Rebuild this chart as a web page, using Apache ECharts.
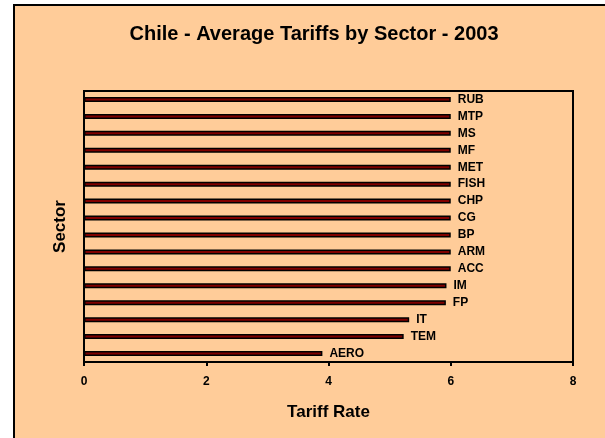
<!DOCTYPE html>
<html>
<head>
<meta charset="utf-8">
<script src="https://cdn.jsdelivr.net/npm/echarts@6/dist/echarts.min.js"></script>
<style>
  html, body { margin: 0; padding: 0; background: #ffffff; width: 605px; height: 438px; overflow: hidden; }
  #frame { position: absolute; left: 13px; top: 4px; width: 590px; height: 500px; background: #FFCC99; border: 2px solid #000; }
  #chart { position: absolute; left: 0; top: 0; width: 605px; height: 438px; }
</style>
</head>
<body>
<div id="frame"></div>
<div id="chart"></div>
<script>
// Categories listed bottom to top
const sectors = ['AERO', 'TEM', 'IT', 'FP', 'IM', 'ACC', 'ARM', 'BP', 'CG', 'CHP', 'FISH', 'MET', 'MF', 'MS', 'MTP', 'RUB'];
const tariffRates = [3.9, 5.23, 5.32, 5.92, 5.93, 6.0, 6.0, 6.0, 6.0, 6.0, 6.0, 6.0, 6.0, 6.0, 6.0, 6.0];
const xTicks = [0, 2, 4, 6, 8];

const chart = echarts.init(document.getElementById('chart'), null, { renderer: 'canvas' });
const font = 'Liberation Sans, Arial, sans-serif';
chart.setOption({
  backgroundColor: 'transparent',
  animation: false,
  title: {
    text: 'Chile - Average Tariffs by Sector - 2003',
    left: 309,
    textAlign: 'center',
    top: 19,
    textStyle: { fontFamily: font, fontWeight: 'bold', fontSize: 20, color: '#000' }
  },
  grid: {
    left: 84, right: 32, top: 91, bottom: 76,
    show: true, backgroundColor: '#FFCC99', borderColor: '#000', borderWidth: 2
  },
  xAxis: {
    type: 'value', min: xTicks[0], max: xTicks[xTicks.length - 1], interval: 2,
    name: 'Tariff Rate', nameLocation: 'middle', nameGap: 42,
    nameTextStyle: { fontFamily: font, fontWeight: 'bold', fontSize: 17, color: '#000' },
    axisLine: { show: true, lineStyle: { color: '#000', width: 2 } },
    axisTick: { show: true, length: 4, lineStyle: { color: '#000', width: 2 } },
    axisLabel: { margin: 14, fontFamily: font, fontWeight: 'bold', fontSize: 12, color: '#000' },
    splitLine: { show: false }
  },
  yAxis: {
    type: 'category', data: sectors,
    name: 'Sector', nameLocation: 'middle', nameGap: 15, nameRotate: 90,
    nameTextStyle: { fontFamily: font, fontWeight: 'bold', fontSize: 17, color: '#000' },
    axisLine: { show: true, lineStyle: { color: '#000', width: 2 } },
    axisTick: { show: false },
    axisLabel: { show: false },
    splitLine: { show: false }
  },
  series: [{
    type: 'bar',
    data: tariffRates,
    barWidth: 5,
    itemStyle: { color: '#800000', borderColor: '#000', borderWidth: 1.5 },
    label: {
      show: true, position: 'right', distance: 7,
      formatter: p => sectors[p.dataIndex],
      fontFamily: font, fontWeight: 'bold', fontSize: 12, color: '#000'
    }
  }]
});
</script>
</body>
</html>
